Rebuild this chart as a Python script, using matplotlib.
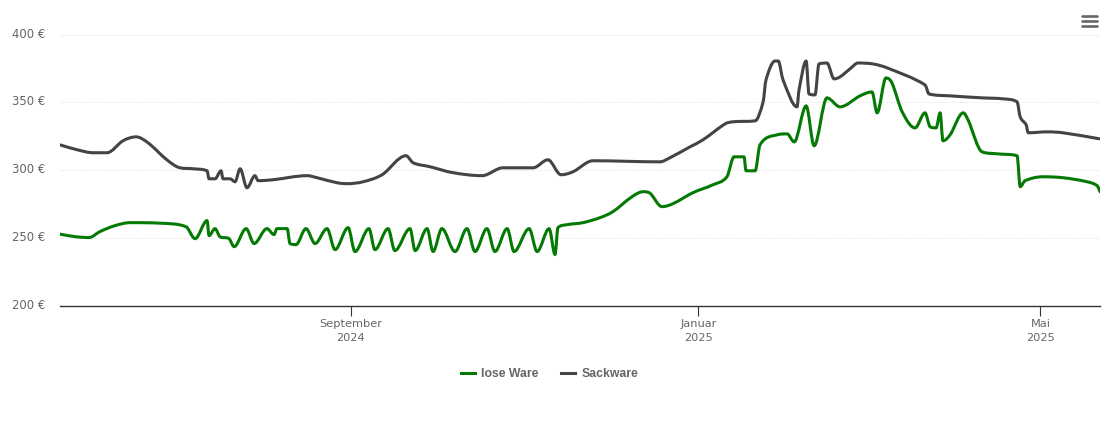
import numpy as np
import pandas as pd
import matplotlib
matplotlib.use('Agg')
import matplotlib.pyplot as plt
from matplotlib.lines import Line2D
from matplotlib.patches import PathPatch
from matplotlib.path import Path
from matplotlib.transforms import ScaledTranslation

start_date = pd.Timestamp('2024-05-22')

# days after start_date and price in EUR
lose_days = [0, 5.3, 10.2, 14.0, 19.3, 24.6, 35.1, 44.2, 47.4, 51.6, 52.3, 54.4, 56.1, 59.3, 61.1, 65.3, 68.1, 72.6,
             75.1, 76.1, 79.7, 80.7, 82.8, 86.3, 89.5, 93.7, 96.5, 101.1, 103.5, 108.4, 110.5, 115.1, 117.5, 122.8,
             124.6, 128.8, 130.9, 134.0, 138.6, 142.8, 145.6, 149.8, 152.6, 156.9, 159.3, 164.6, 167.4, 171.6, 173.7,
             174.7, 177.9, 183.5, 189.5, 194.0, 200.7, 204.6, 206.7, 211.2, 215.1, 222.1, 229.1, 234.0, 236.5, 240.0,
             240.7, 243.9, 245.6, 251.6, 255.1, 257.6, 261.8, 264.6, 269.1, 273.7, 280.7, 284.9, 286.7, 289.8, 291.9,
             295.5, 300.0, 303.5, 305.3, 307.4, 308.8, 309.8, 312.3, 316.9, 318.6, 323.5, 328.8, 335.8, 336.9, 338.6,
             344.9, 351.9, 360.4, 363.9, 364.9]
lose_prices = [252.9, 251.1, 250.4, 254.8, 259.2, 261.4, 261.0, 258.4, 249.6, 262.9, 251.8, 257.0, 251.1, 249.6, 243.7,
               257.0, 246.0, 257.0, 252.6, 257.0, 257.0, 246.0, 245.2, 257.0, 246.0, 257.0, 241.5, 257.7, 240.1, 257.0,
               241.5, 257.0, 240.8, 257.0, 240.8, 257.0, 240.1, 257.0, 240.1, 257.0, 240.1, 257.0, 240.1, 257.0, 240.1,
               257.0, 240.1, 257.0, 237.9, 257.7, 259.9, 261.4, 265.1, 269.5, 280.5, 284.2, 283.5, 273.2, 275.4, 283.5,
               289.3, 295.2, 309.9, 309.9, 299.6, 299.6, 318.7, 326.1, 326.8, 320.9, 347.4, 318.0, 353.3, 346.7, 354.8,
               357.7, 342.3, 368.0, 364.3, 343.0, 331.2, 342.3, 332.0, 331.2, 342.3, 321.7, 326.1, 342.3, 337.1, 313.6,
               312.1, 310.7, 287.9, 292.3, 295.2, 294.5, 291.5, 288.6, 284.2]

sack_days = [0, 6.0, 11.6, 16.5, 22.1, 26.7, 30.9, 37.5, 42.1, 46.7, 51.6, 52.3, 54.4, 56.5, 57.2, 59.7, 61.4, 63.2,
             65.6, 68.4, 69.5, 74.7, 86.7, 90.2, 97.2, 100.7, 106.3, 113.0, 121.4, 123.9, 129.8, 137.9, 148.1, 155.4,
             166.0, 171.2, 175.8, 180.0, 187.0, 210.5, 214.0, 221.1, 225.6, 233.4, 236.2, 243.9, 246.7, 247.7, 250.9,
             252.0, 253.7, 258.6, 259.3, 261.8, 262.8, 264.9, 266.3, 269.1, 271.6, 273.7, 277.2, 280.0, 285.3, 290.2,
             303.5, 304.9, 312.3, 323.9, 330.9, 335.8, 336.9, 339.0, 339.7, 346.4, 351.9, 364.6]
sack_prices = [318.7, 315.1, 312.9, 312.9, 321.7, 324.6, 320.2, 307.7, 301.8, 301.1, 299.6, 293.7, 293.7, 299.6, 293.7,
               293.7, 291.5, 301.1, 287.1, 296.0, 292.3, 293.0, 296.0, 294.5, 290.8, 290.1, 291.5, 296.7, 310.7, 305.5,
               302.6, 298.2, 296.0, 301.8, 301.8, 307.7, 296.7, 298.9, 307.0, 306.2, 309.2, 317.3, 322.4, 334.2, 335.7,
               336.4, 350.4, 366.5, 380.5, 380.5, 366.5, 346.7, 359.2, 380.5, 356.2, 355.5, 378.3, 379.0, 367.3, 368.8,
               374.7, 379.0, 378.3, 375.4, 362.9, 356.2, 354.8, 353.3, 352.6, 350.4, 339.3, 333.4, 327.6, 328.3, 327.6,
               323.2]

y_ticks = [200, 250, 300, 350, 400]
x_tick_dates = ['2024-09-01', '2025-01-01', '2025-05-01']
x_tick_labels = ['September\n2024', 'Januar\n2025', 'Mai\n2025']

GREEN = '#047a04'
GRAY = '#434348'
TEXT = '#666666'


def spline_path(xs, ys):
    # smooth curve through the points, flat at every local peak and dip
    xs = np.asarray(xs, float)
    ys = np.asarray(ys, float)
    h = np.diff(xs)
    d = np.diff(ys) / h
    m = np.zeros(len(xs))
    for i in range(1, len(xs) - 1):
        if d[i - 1] * d[i] > 0:
            central = (ys[i + 1] - ys[i - 1]) / (xs[i + 1] - xs[i - 1])
            limit = 3 * min(abs(d[i - 1]), abs(d[i]))
            m[i] = np.sign(central) * min(abs(central), limit)
    m[0] = d[0]
    m[-1] = d[-1]
    verts = [(xs[0], ys[0])]
    codes = [Path.MOVETO]
    for i in range(len(h)):
        verts.append((xs[i] + h[i] / 3, ys[i] + m[i] * h[i] / 3))
        verts.append((xs[i + 1] - h[i] / 3, ys[i + 1] - m[i + 1] * h[i] / 3))
        verts.append((xs[i + 1], ys[i + 1]))
        codes += [Path.CURVE4] * 3
    return Path(verts, codes)


plt.rcParams['font.family'] = ['DejaVu Sans']

fig = plt.figure(figsize=(11.1, 4.23), dpi=100)
ax = fig.add_axes([60 / 1110, 1 - 306 / 423, 1040 / 1110, 271.5 / 423])

for days, prices, color in [(sack_days, sack_prices, GRAY), (lose_days, lose_prices, GREEN)]:
    ax.add_patch(PathPatch(spline_path(days, prices), fill=False, edgecolor=color, lw=2.2,
                           capstyle='round', joinstyle='round', zorder=3))

ax.set_xlim(0, 364.9)
ax.set_ylim(200, 400)

for s in ['top', 'right', 'left']:
    ax.spines[s].set_visible(False)
ax.spines['bottom'].set_color('#333333')
ax.spines['bottom'].set_linewidth(1)

ax.set_yticks(y_ticks)
ax.set_yticklabels([f'{v} €' for v in y_ticks], fontsize=8.4, color=TEXT)
ax.tick_params(axis='y', length=0, pad=10.5)
ax.grid(axis='y', color='#e0e0e0', lw=0.7, ls=(0, (1, 1.5)))
ax.set_axisbelow(True)

# y labels sit slightly above their grid lines
up = ScaledTranslation(0, 2 / 100, fig.dpi_scale_trans)
for lab in ax.get_yticklabels():
    lab.set_transform(lab.get_transform() + up)

tick_pos = [(pd.Timestamp(d) - start_date).days for d in x_tick_dates]
ax.set_xticks(tick_pos)
ax.set_xticklabels(x_tick_labels, fontsize=8.2, color=TEXT, linespacing=1.55)
ax.tick_params(axis='x', length=7, width=0.8, color='#333333', pad=2)

# legend
handles = [Line2D([], [], color=GREEN, lw=2.2), Line2D([], [], color=GRAY, lw=2.2)]
leg = fig.legend(handles, ['lose Ware', 'Sackware'], ncol=2, frameon=False, loc='center',
                 bbox_to_anchor=(549.5 / 1110, 1 - 374 / 423), handlelength=1.2, handletextpad=0.5,
                 columnspacing=1.8, prop={'family': 'Liberation Sans', 'weight': 'bold', 'size': 8.8})
for t in leg.get_texts():
    t.set_color(TEXT)

# menu icon
for y in [16, 21, 26]:
    fig.add_artist(Line2D([1082 / 1110, 1097 / 1110], [1 - y / 423, 1 - y / 423], color='#666666', lw=1.9,
                          solid_capstyle='round', transform=fig.transFigure))

fig.savefig('out.png', dpi=100)
plt.close()
